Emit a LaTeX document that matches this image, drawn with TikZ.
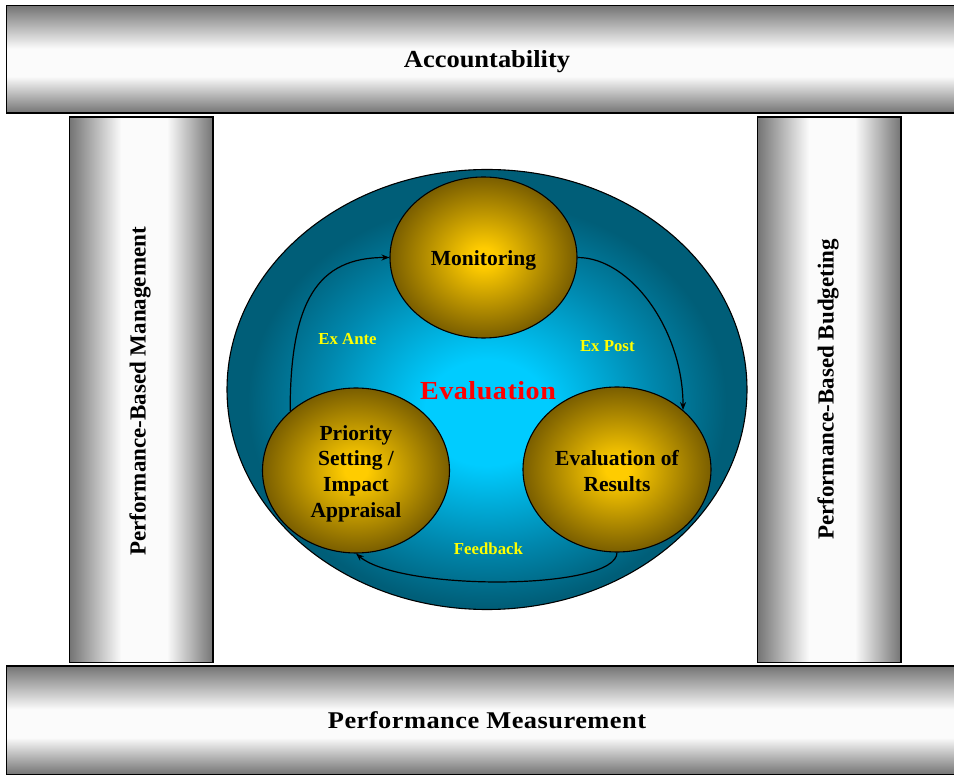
\documentclass[tikz,border=0pt]{standalone}
\usepackage{fontspec}
\setmainfont{Liberation Serif}
\newfontfamily\lsA[FakeStretch=1.08]{Liberation Serif}
\newfontfamily\lsB[FakeStretch=1.1,LetterSpace=2]{Liberation Serif}
\newfontfamily\lsF[FakeStretch=1.08,LetterSpace=2]{Liberation Serif}
\usetikzlibrary{shapes.geometric,arrows.meta}
\definecolor{bard}{HTML}{747474}
\definecolor{barl}{HTML}{FBFBFB}
\definecolor{goldc}{HTML}{FFCC00}
\definecolor{goldd}{HTML}{7A5E00}
\definecolor{cyanc}{HTML}{00CCFF}
\definecolor{cyanm}{HTML}{0088AE}
\definecolor{tealdark}{HTML}{005E78}
\definecolor{lblyellow}{HTML}{FFFF00}
\pgfdeclareverticalshading{barv}{100bp}{color(0bp)=(bard); color(25bp)=(bard); color(42bp)=(barl); color(55bp)=(barl); color(75bp)=(bard); color(100bp)=(bard)}
\pgfdeclarehorizontalshading{pillarh}{100bp}{color(0bp)=(bard); color(25bp)=(bard); color(43bp)=(barl); color(59bp)=(barl); color(75bp)=(bard); color(100bp)=(bard)}
\pgfdeclareradialshading{goldball}{\pgfpoint{0bp}{0bp}}{color(0bp)=(goldc); color(3bp)=(goldc); color(25bp)=(goldd); color(50bp)=(goldd)}
\pgfdeclareradialshading{cyanball}{\pgfpoint{0bp}{-3bp}}{color(0bp)=(cyanc); color(6bp)=(cyanc); color(16bp)=(cyanm); color(23bp)=(tealdark); color(50bp)=(tealdark)}
\begin{document}
\begin{tikzpicture}[x=1pt,y=-1pt,
  bar/.style={draw=black, line width=1.4pt, shading=barv, inner sep=0pt},
  pillar/.style={draw=black, line width=1.4pt, shading=pillarh, inner sep=0pt},
  goldnode/.style={ellipse, draw=black, line width=1.1pt, shading=goldball, inner sep=0pt, text=black, font=\bfseries\fontsize{21.5}{25.8}\selectfont, align=center},
  pillartext/.style={rotate=90, inner sep=0pt, font=\bfseries\fontsize{23}{27}\selectfont},
  lbl/.style={text=lblyellow, inner sep=0pt, font=\bfseries\fontsize{16.8}{20}\selectfont},
  flow/.style={line width=1.2pt, -{Stealth[length=8pt,width=6pt]}}
]
\useasboundingbox (0,0) rectangle (954,775);
\fill[white] (0,0) rectangle (954,775);
% bars
\node[bar, minimum width=961pt, minimum height=107.5pt, text height=16.5pt, text depth=0pt, font=\lsA\bfseries\fontsize{24.5}{28}\selectfont] (acc) at (487,59.25) {Accountability};
\node[bar, minimum width=960.6pt, minimum height=108.5pt, text height=16pt, text depth=0pt, font=\lsB\bfseries\fontsize{24}{28}\selectfont] (pm) at (487,720.25) {Performance Measurement};
% pillars
\node[pillar, minimum width=143.5pt, minimum height=545.5pt] (pbm) at (141.25,389.75) {};
\node[pillar, minimum width=143.7pt, minimum height=545.5pt] (pbb) at (829.15,389.75) {};
\node[pillartext] (pbmtext) at (140,391.5) {Performance-Based Management};
\node[pillartext] (pbbtext) at (828,389.5) {Performance-Based Budgeting};
% evaluation zone
\node[ellipse, draw=black, line width=1.1pt, shading=cyanball, minimum width=520pt, minimum height=440pt, inner sep=0pt] (zone) at (487,389.5) {};
\node[text=red, inner sep=0pt, font=\lsF\bfseries\fontsize{26}{30}\selectfont] (evallbl) at (488,391) {Evaluation};
% gold nodes
\node[goldnode, minimum width=187pt, minimum height=161pt, text height=17pt, text depth=0pt] (mon) at (483.5,257.5) {Monitoring};
\node[goldnode, minimum width=187pt, minimum height=165pt] (pri) at (356,470.5) {\rule{0pt}{21pt}Priority\\Setting /\\Impact\\Appraisal};
\node[goldnode, minimum width=188pt, minimum height=165pt] (res) at (617,469.5) {\rule{0pt}{18pt}Evaluation of\\Results};
% labels
\node[lbl] (exante) at (347.5,339.5) {Ex Ante};
\node[lbl] (expost) at (607.3,346.3) {Ex Post};
\node[lbl] (feedback) at (488.5,549) {Feedback};
% arrows
\draw[flow] (pri.138) .. controls +(0,-110) and +(-72,0) .. (mon.west);
\draw[flow] (mon.east) .. controls +(53,0) and +(0,-80) .. (res.42);
\draw[flow] (res.south) .. controls +(0,38) and +(45,38) .. (pri.south);
\end{tikzpicture}
\end{document}
